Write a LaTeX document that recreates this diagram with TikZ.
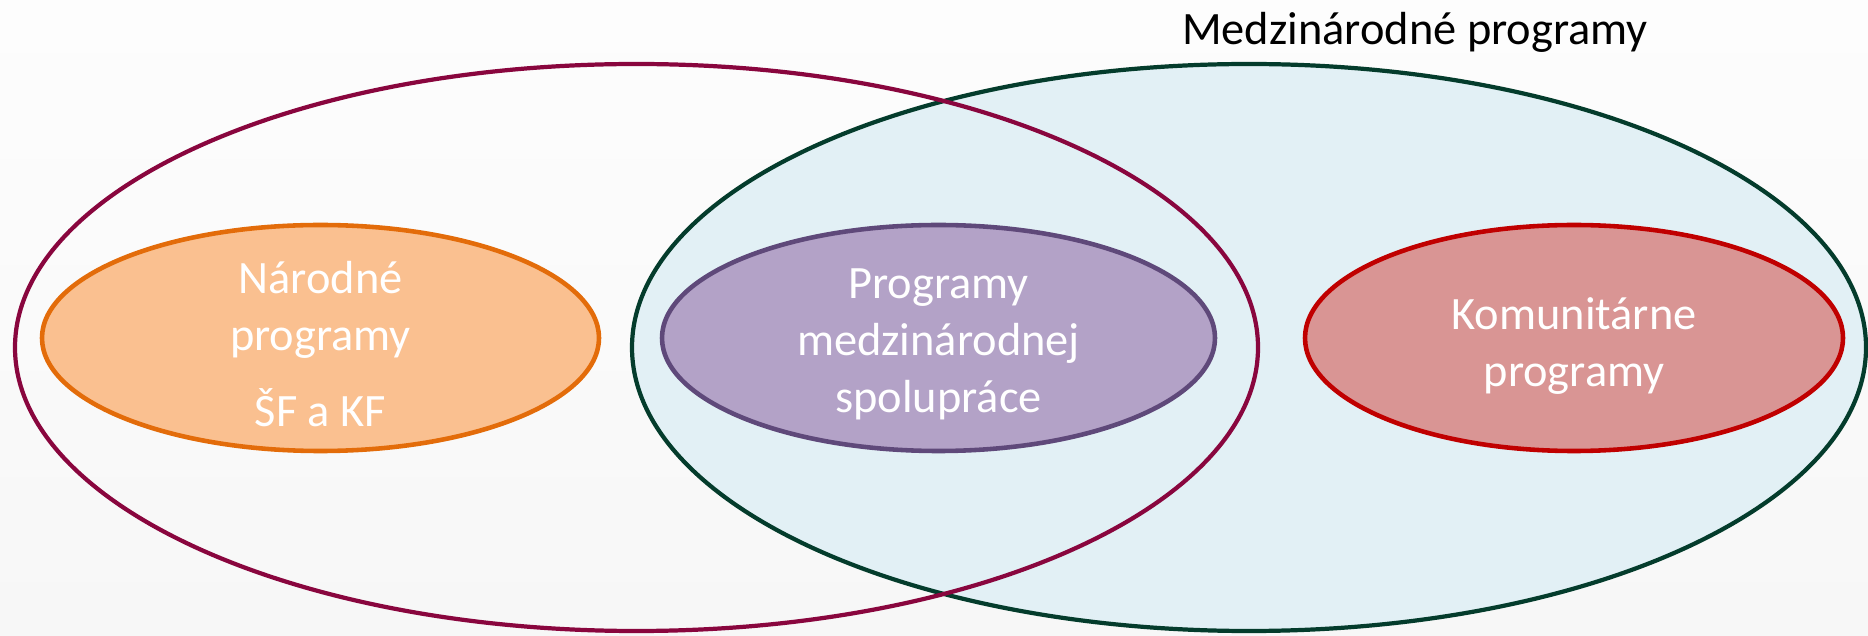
\documentclass[tikz,border=0pt]{standalone}
\usepackage{fontspec}
\setmainfont{Carlito}
\usetikzlibrary{shapes.geometric, positioning}
\definecolor{setmaroon}{RGB}{137,6,62}
\definecolor{setgreen}{RGB}{4,60,44}
\definecolor{setblue}{RGB}{226,240,245}
\definecolor{progorange}{RGB}{227,108,10}
\definecolor{progorangefill}{RGB}{250,192,144}
\definecolor{progpurple}{RGB}{95,73,122}
\definecolor{progpurplefill}{RGB}{179,162,199}
\definecolor{progred}{RGB}{192,0,0}
\definecolor{progredfill}{RGB}{217,149,148}
\definecolor{bgtop}{RGB}{253,253,253}
\definecolor{bgbottom}{RGB}{247,247,247}
\tikzset{
    setring/.style={
        ellipse, draw, line width=1.2pt, inner sep=0pt,
        minimum height=5.67cm
    },
    program/.style={
        ellipse, draw, line width=1.3pt, inner sep=0pt,
        minimum height=2.26cm
    },
    programtext/.style={
        text=white, align=center, inner sep=0pt,
        font=\fontsize{13.2}{16.2}\selectfont
    },
    setlabel/.style={
        font=\fontsize{13.2}{16.2}\selectfont, text=black
    }
}

\begin{document}
\begin{tikzpicture}

% Background
\shade[top color=bgtop, bottom color=bgbottom] (0,0) rectangle (18.68,6.35);
\useasboundingbox (0,0) rectangle (18.68,6.35);

% Outer sets
\node[setring, draw=setgreen, fill=setblue, minimum width=12.34cm] (intl) at (12.49,2.875) {};
\node[setring, draw=setmaroon, minimum width=12.43cm] (domestic) at (6.365,2.875) {};

% Programs
\node[program, draw=progorange, fill=progorangefill, minimum width=5.57cm] (national) at (3.205,2.97) {};
\node[program, draw=progpurple, fill=progpurplefill, minimum width=5.53cm] (coop) at (9.385,2.97) {};
\node[program, draw=progred, fill=progredfill, minimum width=5.38cm] (community) at (15.74,2.97) {};

\node[programtext, yshift=-0.06cm] (national_text) at (national) {Národné\\ programy\\[5.4pt] ŠF a KF};
\node[programtext, yshift=-0.06cm] (coop_text) at (coop) {Programy\\ medzinárodnej\\ spolupráce};
\node[programtext, yshift=-0.08cm] (community_text) at (community) {Komunitárne\\ programy};

% Label
\node[setlabel] (intl_label) at (14.15,6.03) {Medzinárodné programy};

\end{tikzpicture}
\end{document}
